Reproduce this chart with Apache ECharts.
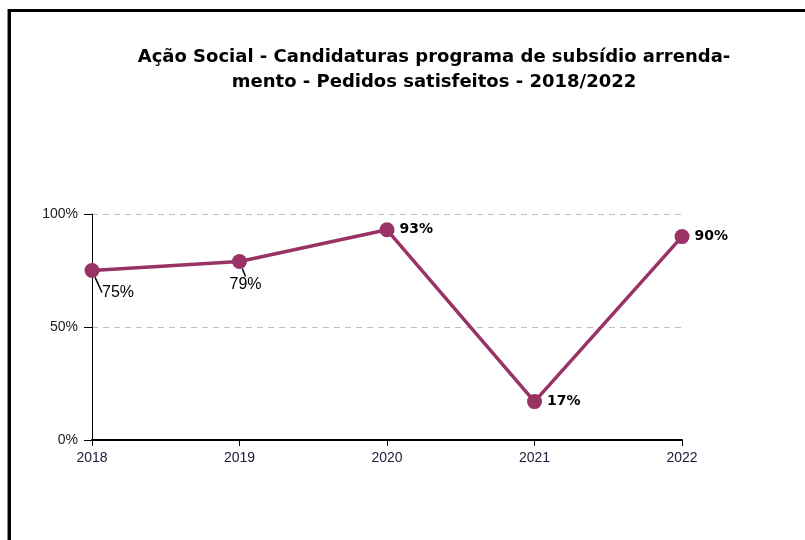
<!DOCTYPE html>
<html>
<head>
<meta charset="utf-8">
<script src="https://cdn.jsdelivr.net/npm/echarts@6/dist/echarts.min.js"></script>
<style>
  html, body { margin: 0; padding: 0; background: #ffffff; }
  #chart { width: 805px; height: 540px; }
</style>
</head>
<body>
<div id="chart"></div>
<script>
// Share of applications granted, per year
const years = ['2018', '2019', '2020', '2021', '2022'];
const satisfied = [75, 79, 93, 17, 90];
const yTicks = [0, 50, 100];

const lineColor = '#993366';

// Label placement per point (first two sit below the line with a leader)
const labelOffsets = [
  { dx: 26, dy: 22 },
  { dx: 6, dy: 23 },
  null, null, null
];

const chart = echarts.init(document.getElementById('chart'), null, { renderer: 'canvas' });

chart.setOption({
  backgroundColor: '#ffffff',
  animation: false,
  title: {
    text: 'Ação Social - Candidaturas programa de subsídio arrenda-\nmento - Pedidos satisfeitos - 2018/2022',
    left: 429,
    top: 40,
    textAlign: 'center',
    textStyle: {
      fontFamily: 'DejaVu Sans',
      fontWeight: 'bold',
      fontSize: 18,
      lineHeight: 25,
      color: '#000000'
    }
  },
  grid: { left: 92, right: 123, top: 214, bottom: 100 },
  xAxis: {
    type: 'category',
    data: years,
    boundaryGap: false,
    axisLine: { show: true, lineStyle: { color: '#000000', width: 2 } },
    axisTick: { show: true, alignWithLabel: true, length: 6, lineStyle: { color: '#000000', width: 1 } },
    axisLabel: { color: '#1a1a3a', fontFamily: 'Liberation Sans', fontSize: 14, margin: 11 },
    splitLine: { show: false }
  },
  yAxis: {
    type: 'value',
    min: 0,
    max: 100,
    interval: 50,
    axisLine: { show: true, lineStyle: { color: '#000000', width: 1 } },
    axisTick: { show: true, length: 8, lineStyle: { color: '#000000' } },
    axisLabel: {
      color: '#1a1a1a',
      fontFamily: 'Liberation Sans',
      fontSize: 14,
      margin: 14,
      formatter: v => (yTicks.includes(v) ? v + '%' : '')
    },
    splitLine: { show: true, lineStyle: { color: '#bfbfbf', type: [6, 5], width: 1 } }
  },
  series: [{
    type: 'line',
    data: satisfied.map((v, i) => {
      const item = { value: v };
      if (labelOffsets[i]) {
        item.label = {
          position: 'inside',
          fontFamily: 'Liberation Sans',
          fontWeight: 'normal',
          fontSize: 16
        };
        item.labelLine = { show: true };
      }
      return item;
    }),
    symbol: 'circle',
    symbolSize: 15,
    lineStyle: { color: lineColor, width: 3.5 },
    itemStyle: { color: lineColor },
    label: {
      show: true,
      position: 'right',
      distance: 5,
      formatter: p => p.value + '%',
      fontFamily: 'DejaVu Sans',
      fontWeight: 'bold',
      fontSize: 14,
      color: '#000000'
    },
    labelLine: { show: false, lineStyle: { color: '#000000', width: 1.5 }, length2: 0 },
    labelLayout: p => {
      const o = labelOffsets[p.dataIndex];
      return o ? { dx: o.dx, dy: o.dy } : {};
    }
  }],
  graphic: [
    { type: 'rect', shape: { x: 7, y: 9, width: 798, height: 3 }, style: { fill: '#000000' } },
    { type: 'rect', shape: { x: 7, y: 9, width: 1, height: 531 }, style: { fill: '#8a8a8a' } },
    { type: 'rect', shape: { x: 8, y: 9, width: 3, height: 531 }, style: { fill: '#000000' } }
  ]
});
</script>
</body>
</html>
